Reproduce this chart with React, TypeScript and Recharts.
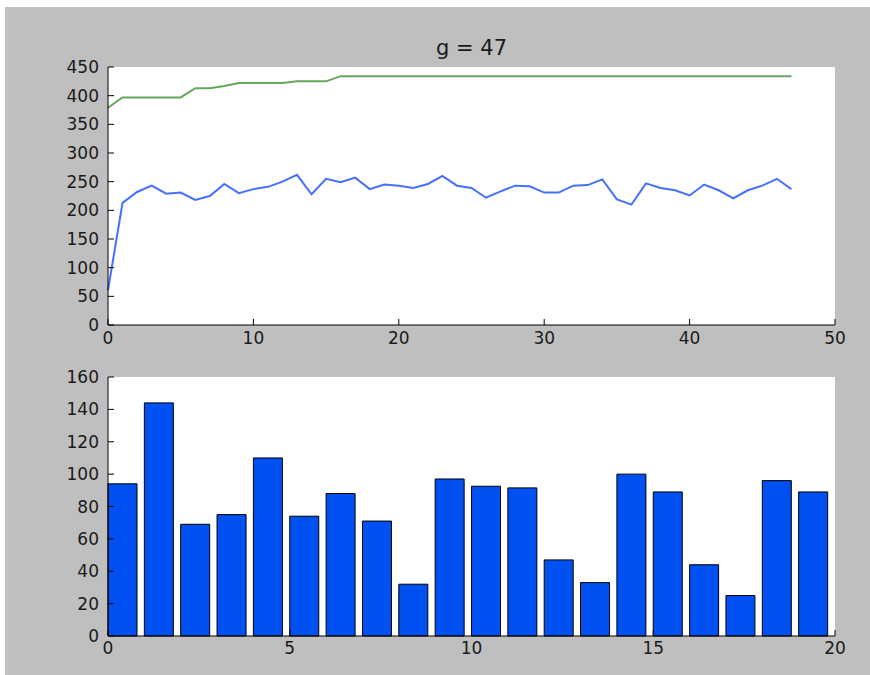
import React from 'react';
import { LineChart, Line, BarChart, Bar, XAxis, YAxis, CartesianGrid } from 'recharts';

// top panel: best and mean fitness per generation
const bestFitness = [
  379, 397, 397, 397, 397, 397, 413, 413, 417, 422, 422, 422, 422, 425, 425, 425,
  434, 434, 434, 434, 434, 434, 434, 434, 434, 434, 434, 434, 434, 434, 434, 434,
  434, 434, 434, 434, 434, 434, 434, 434, 434, 434, 434, 434, 434, 434, 434, 434,
];
const meanFitness = [
  61, 213, 232, 243, 229, 231, 218, 225, 246, 230, 237, 241, 250, 262, 228, 255,
  249, 257, 237, 245, 243, 239, 246, 260, 243, 239, 222, 233, 243, 242, 231, 231,
  243, 244, 254, 219, 210, 247, 239, 235, 226, 245, 235, 221, 235, 243, 255, 237,
];
const lineXTicks = [0, 10, 20, 30, 40, 50];
const lineYTicks = [0, 50, 100, 150, 200, 250, 300, 350, 400, 450];

// bottom panel: histogram-like bars, left edges and heights
const barStarts = [0, 1, 2, 3, 4, 5, 6, 7, 8, 9, 10, 11, 12, 13, 14, 15, 16, 17, 18, 19];
const barCounts = [94, 144, 69, 75, 110, 74, 88, 71, 32, 97, 92.5, 91.5, 47, 33, 100, 89, 44, 25, 96, 89];
const barXTicks = [0, 5, 10, 15, 20];
const barYTicks = [0, 20, 40, 60, 80, 100, 120, 140, 160];
const BAR_WIDTH = 0.8;

const lineData = meanFitness.map((mean, i) => ({ g: i, best: bestFitness[i], mean }));
const barData = barStarts.map((s, i) => ({ x: s + BAR_WIDTH / 2, count: barCounts[i] }));

const FONT = '"DejaVu Sans", sans-serif';
const tickStyle = { fontSize: 17, fill: '#1a1a1a', fontFamily: FONT };
const axisLine = { stroke: '#000', strokeWidth: 1 };
const tickLine = { stroke: '#000', strokeWidth: 1 };

export default function App() {
  return (
    <div
      style={{
        position: 'absolute',
        left: 5,
        top: 7,
        width: 865,
        height: 668,
        background: '#bfbfbf',
        fontFamily: FONT,
      }}
    >
      <div
        style={{
          position: 'absolute',
          left: 366.5,
          top: 31,
          width: 200,
          textAlign: 'center',
          fontSize: 21,
          lineHeight: '21px',
          color: '#1a1a1a',
        }}
      >
        g = 47
      </div>

      <div style={{ position: 'absolute', left: 0, top: 0 }}>
        <LineChart width={865} height={350} data={lineData} margin={{ top: 60, right: 35, bottom: 0, left: 0 }}>
          <CartesianGrid fill="#fff" horizontal={false} vertical={false} />
          <XAxis
            dataKey="g"
            type="number"
            domain={[0, 50]}
            ticks={lineXTicks}
            interval={0}
            height={32}
            tick={tickStyle}
            tickSize={-6}
            tickMargin={13}
            axisLine={axisLine}
            tickLine={tickLine}
          />
          <XAxis
            xAxisId="top"
            orientation="top"
            type="number"
            domain={[0, 50]}
            allowDataOverflow
            ticks={lineXTicks}
            interval={0}
            height={0}
            tick={false}
            tickSize={-6}
            axisLine={axisLine}
            tickLine={tickLine}
          />
          <YAxis
            type="number"
            domain={[0, 450]}
            ticks={lineYTicks}
            interval={0}
            width={103}
            tick={tickStyle}
            tickSize={-6}
            tickMargin={15}
            axisLine={axisLine}
            tickLine={tickLine}
          />
          <YAxis
            yAxisId="right"
            orientation="right"
            type="number"
            domain={[0, 450]}
            allowDataOverflow
            ticks={lineYTicks}
            interval={0}
            width={0}
            tick={false}
            tickSize={-6}
            axisLine={axisLine}
            tickLine={tickLine}
          />
          <Line dataKey="best" type="linear" stroke="#63a85a" strokeWidth={2} dot={false} isAnimationActive={false} />
          <Line dataKey="mean" type="linear" stroke="#4570ff" strokeWidth={2} dot={false} isAnimationActive={false} />
        </LineChart>
      </div>

      <div style={{ position: 'absolute', left: 0, top: 350 }}>
        <BarChart
          width={865}
          height={318}
          data={barData}
          margin={{ top: 20, right: 35, bottom: 0, left: 0 }}
          barCategoryGap="10%"
        >
          <CartesianGrid fill="#fff" horizontal={false} vertical={false} />
          <XAxis
            dataKey="x"
            type="number"
            domain={[0, 20]}
            ticks={barXTicks}
            interval={0}
            height={39}
            tick={tickStyle}
            tickSize={-6}
            tickMargin={12}
            axisLine={axisLine}
            tickLine={tickLine}
          />
          <XAxis
            xAxisId="top"
            orientation="top"
            type="number"
            domain={[0, 20]}
            allowDataOverflow
            ticks={barXTicks}
            interval={0}
            height={0}
            tick={false}
            tickSize={-6}
            axisLine={axisLine}
            tickLine={tickLine}
          />
          <YAxis
            type="number"
            domain={[0, 160]}
            ticks={barYTicks}
            interval={0}
            width={103}
            tick={tickStyle}
            tickSize={-6}
            tickMargin={15}
            axisLine={axisLine}
            tickLine={tickLine}
          />
          <YAxis
            yAxisId="right"
            orientation="right"
            type="number"
            domain={[0, 160]}
            allowDataOverflow
            ticks={barYTicks}
            interval={0}
            width={0}
            tick={false}
            tickSize={-6}
            axisLine={axisLine}
            tickLine={tickLine}
          />
          <Bar dataKey="count" fill="#0050f2" stroke="#000" strokeWidth={1} isAnimationActive={false} />
        </BarChart>
      </div>
    </div>
  );
}
